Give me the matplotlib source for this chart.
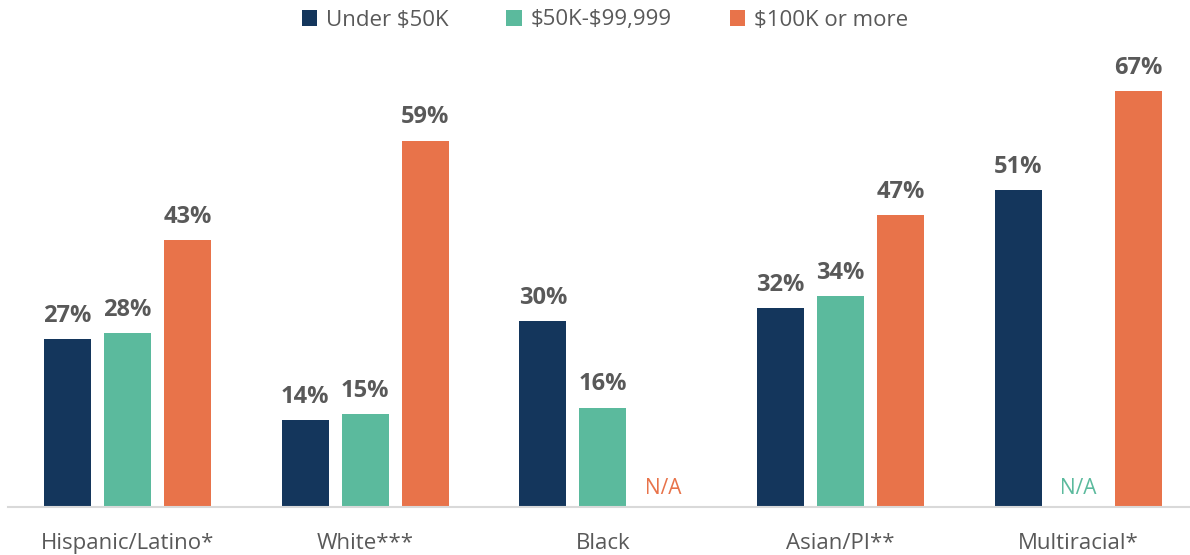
import numpy as np
import matplotlib.pyplot as plt
from matplotlib.patches import Patch

groups = ['Hispanic/Latino*', 'White***', 'Black', 'Asian/PI**', 'Multiracial*']
series = ['Under \\$50K', '\\$50K-\\$99,999', '\\$100K or more']
under_50k = [27, 14, 30, 32, 51]
mid_50k_100k = [28, 15, 16, 34, np.nan]
over_100k = [43, 59, np.nan, 47, 67]

colors = ['#14365C', '#5BBA9D', '#E8734A']
text_gray = '#595959'

plt.rcParams['font.family'] = ['Open Sans', 'DejaVu Sans']

fig = plt.figure(figsize=(11.9, 5.55), dpi=100)
ax = fig.add_axes([8 / 1190, 1 - 507 / 555, 1182 / 1190, 467 / 555])

x = np.arange(len(groups))
width = 0.1977
step = 0.2524

for i, (vals, c) in enumerate(zip([under_50k, mid_50k_100k, over_100k], colors)):
    pos = x + (i - 1) * step
    for p, v in zip(pos, vals):
        if np.isnan(v):
            ax.text(p, 1.3, 'N/A', ha='center', va='bottom', color=c, fontsize=15)
            continue
        ax.bar(p, v, width=width, color=c)
        ax.text(p, v + 1.8, f'{v:.0f}%', ha='center', va='bottom',
                color=text_gray, fontsize=17, fontweight='bold')

ax.set_xlim(-0.5026, 4.469)
ax.set_ylim(0, 75.2)
ax.set_yticks([])
ax.set_xticks(x)
ax.set_xticklabels(groups, fontsize=16, color=text_gray)
ax.tick_params(axis='x', length=0, pad=19)
for s in ['top', 'right', 'left']:
    ax.spines[s].set_visible(False)
ax.spines['bottom'].set_color('#D9D9D9')
ax.spines['bottom'].set_linewidth(1.5)

handles = [Patch(facecolor=c, label=s) for c, s in zip(colors, series)]
fig.legend(handles=handles, loc='center', bbox_to_anchor=(605 / 1190, 1 - 20 / 555),
           ncol=3, frameon=False, fontsize=16, labelcolor=text_gray,
           handlelength=0.7, handleheight=0.7, handletextpad=0.4, columnspacing=2.6)

fig.savefig('out.png', dpi=100)
